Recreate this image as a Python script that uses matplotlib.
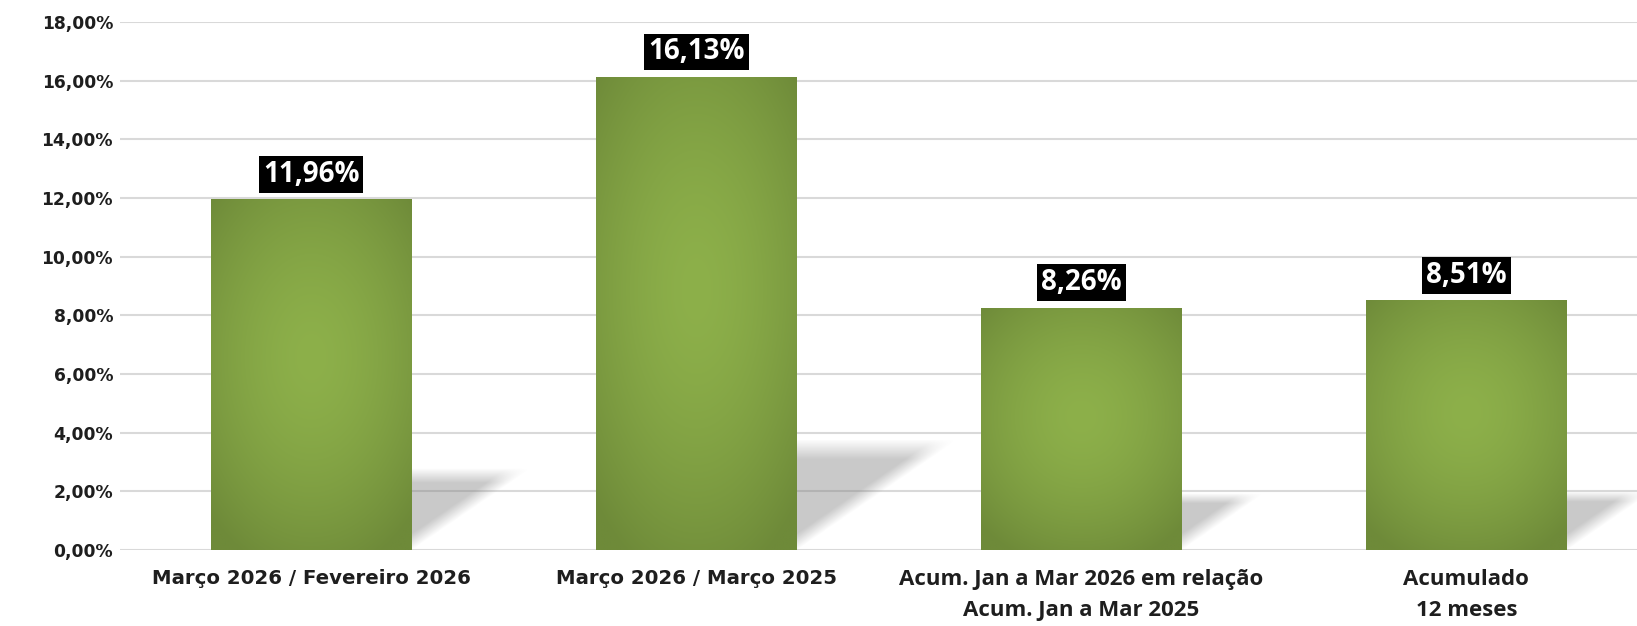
import numpy as np
import matplotlib
matplotlib.use("Agg")
import matplotlib.pyplot as plt
from matplotlib.patches import Polygon

# ---- data ----
categories = [
    "Março 2026 / Fevereiro 2026",
    "Março 2026 / Março 2025",
    "Acum. Jan a Mar 2026 em relação\nAcum. Jan a Mar 2025",
    "Acumulado\n12 meses",
]
values = [11.96, 16.13, 8.26, 8.51]
value_labels = ["11,96%", "16,13%", "8,26%", "8,51%"]
yticks = [0, 2, 4, 6, 8, 10, 12, 14, 16, 18]
ytick_labels = ["0,00%", "2,00%", "4,00%", "6,00%", "8,00%", "10,00%",
                "12,00%", "14,00%", "16,00%", "18,00%"]
label_fonts = ["DejaVu Sans", "DejaVu Sans", "Open Sans", "Open Sans"]

# ---- style ----
center_col = np.array([141, 176, 74]) / 255.0
edge_col = np.array([110, 138, 57]) / 255.0
bar_width = 0.522

fig = plt.figure(figsize=(16.37, 6.26), dpi=100)
fig.patch.set_facecolor("white")
ax = fig.add_axes([0.0733, 0.1214, 0.9267, 0.8435])
x = np.arange(len(values))

bars = ax.bar(x, values, width=bar_width, color=tuple(edge_col), zorder=3,
              linewidth=0)

# radial gradient fill clipped to each bar
N = 200
uu, vv = np.meshgrid(np.linspace(0, 1, N), np.linspace(0, 1, N))
for b in bars:
    x0, w, h = b.get_x(), b.get_width(), b.get_height()
    r = np.sqrt(((uu - 0.5) / 0.72) ** 2 + ((vv - 0.55) / 0.64) ** 2)
    r = np.clip(r, 0, 1) ** 1.6
    img = center_col[None, None, :] * (1 - r[..., None]) + edge_col[None, None, :] * r[..., None]
    im = ax.imshow(img, extent=(x0, x0 + w, 0, h), origin="lower",
                   aspect="auto", zorder=3.5, interpolation="bilinear")
    im.set_clip_path(b)

# perspective shadows
for b in bars:
    x0, w, h = b.get_x(), b.get_width(), b.get_height()
    hs = 0.233 * h
    s = 0.026 * h
    poly = Polygon([(x0, 0), (x0 + w, 0), (x0 + w + s, hs), (x0 + s, hs)],
                   closed=True, facecolor="none", edgecolor="none")
    ax.add_patch(poly)
    M = 300
    xs = np.linspace(x0, x0 + w + s, M)
    ys = np.linspace(0, hs, M)
    XX, YY = np.meshgrid(xs, ys)
    t = YY / hs
    u = (XX - t * s - x0) / w
    fade_u = np.clip((1 - u) / 0.12, 0, 1)
    fade_t = np.clip((1 - t) / 0.18, 0, 1)
    alpha = 0.42 * fade_u * fade_t
    rgba = np.zeros((M, M, 4))
    rgba[..., :3] = 0.5
    rgba[..., 3] = alpha
    im = ax.imshow(rgba, extent=(x0, x0 + w + s, 0, hs), origin="lower",
                   aspect="auto", zorder=2, interpolation="bilinear")
    im.set_clip_path(poly)

# data labels
for xi, v, lab in zip(x, values, value_labels):
    ax.annotate(lab, (xi, v), xytext=(0, 7.5), textcoords="offset points",
                ha="center", va="bottom", color="white", fontsize=20,
                fontweight="bold", family="Open Sans", zorder=5,
                bbox=dict(boxstyle="square,pad=0.14", facecolor="black",
                          edgecolor="none"))

ax.set_xlim(-0.497, 3.443)
ax.set_ylim(0, 18)
ax.set_yticks(yticks)
ax.set_yticklabels(ytick_labels, fontsize=12.3, fontweight="bold",
                   color="#1e1e1e", family="DejaVu Sans")
ax.set_xticks(x)
ax.set_xticklabels(categories)
for tl, fam in zip(ax.get_xticklabels(), label_fonts):
    tl.set_family(fam)
    tl.set_fontweight("bold")
    tl.set_color("#1e1e1e")
    tl.set_linespacing(1.62)
    tl.set_fontsize(14.2 if fam == "DejaVu Sans" else 16.0)
ax.tick_params(axis="both", length=0)
ax.tick_params(axis="x", pad=14)
ax.tick_params(axis="y", pad=5)
ax.grid(axis="y", color="#d9d9d9", linewidth=1.5, zorder=1)
ax.set_axisbelow(True)
for sp in ax.spines.values():
    sp.set_visible(False)

fig.savefig("out.png", dpi=100, facecolor="white")
